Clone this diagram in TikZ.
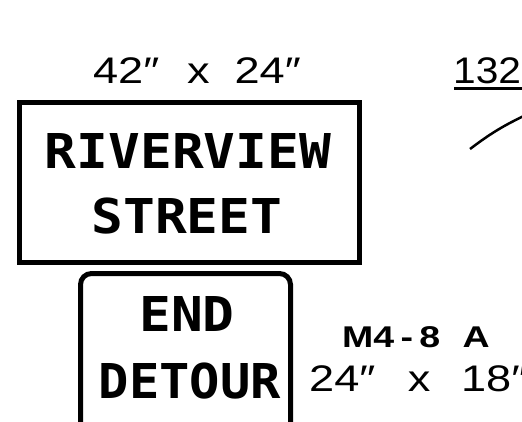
\documentclass[tikz,border=0pt]{standalone}
\usepackage{fontspec}
\setmainfont{Liberation Sans}
\newfontfamily\signfont{DejaVu Sans Mono}
\begin{document}
\begin{tikzpicture}[x=1pt,y=-1pt,
  signbox/.style={draw, line width=5pt, inner sep=0pt},
  dimlabel/.style={font=\fontsize{37}{37}\selectfont, anchor=base, inner sep=0pt},
  codelabel/.style={font=\bfseries\fontsize{30}{30}\selectfont, anchor=base, inner sep=0pt},
  signtext/.style={font=\signfont\bfseries\fontsize{48}{48}\selectfont, anchor=base, inner sep=0pt},
  leader/.style={line width=2.5pt}]
\useasboundingbox (0,0) rectangle (522,421);
\clip (0,0) rectangle (522,421);
% top sign
\node[dimlabel] (dimA) at (197,83) {\scalebox{1.22}[1]{42″\hspace{0.62em}x\hspace{0.55em}24″}};
\node[signbox, minimum width=340pt, minimum height=160pt] (signA) at (189.5,182.5) {};
\node[signtext] (riv) at (188,168) {\scalebox{1.1}[1]{RIVERVIEW}};
\node[signtext] (str) at (187,233) {\scalebox{1.1}[1]{STREET}};
% lower sign
\node[signbox, rounded corners=11pt, minimum width=210pt, minimum height=200pt] (signB) at (185.5,373.5) {};
\node[signtext] (endt) at (187,331) {\scalebox{1.1}[1]{END}};
\node[signtext] (det) at (190,398) {\scalebox{1.05}[1]{DETOUR}};
% code label
\node[codelabel] (code) at (416,347) {\scalebox{1.25}[1]{M4\,-\,8\hspace{0.6em}A}};
\node[dimlabel, anchor=base west] (dimB) at (309,391) {\scalebox{1.22}[1]{24″\hspace{0.72em}x\hspace{0.68em}18″}};
% reference numeral
\node[dimlabel, anchor=base west] (ref) at (453,83) {\scalebox{1.1}[1]{132}};
\coordinate (ulA) at (454,88);
\coordinate (ulB) at (530,88);
\draw[line width=3pt] (ulA) -- (ulB);
\coordinate (leadA) at (470,149);
\coordinate (leadB) at (528,114);
\draw[leader] (leadA) to[bend left=6] (leadB);
\end{tikzpicture}
\end{document}
